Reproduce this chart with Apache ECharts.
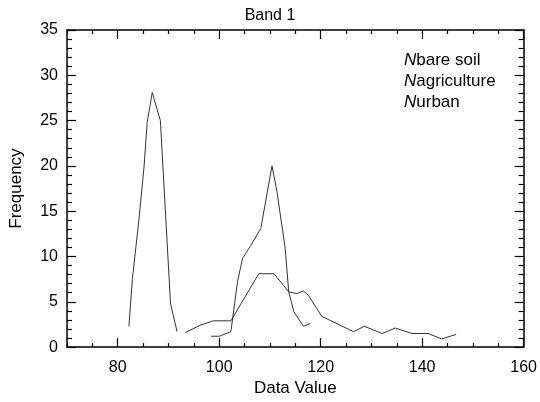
<!DOCTYPE html>
<html>
<head>
<meta charset="utf-8">
<script src="https://cdn.jsdelivr.net/npm/echarts@6/dist/echarts.min.js"></script>
<style>
  html, body { margin: 0; padding: 0; background: #fff; }
  #chart { width: 540px; height: 402px; }
</style>
</head>
<body>
<div id="chart"></div>
<script>
// histogram curves (data value, frequency)
const agriX = [82.2, 82.9, 84.2, 85.2, 85.8, 86.8, 88.4, 90.4, 91.7];
const agriY = [2.3, 7.6, 14.2, 20.0, 24.8, 28.1, 25.0, 4.8, 1.7];

const soilX = [98.4, 100.0, 102.3, 103.6, 104.6, 106.2, 108.2, 110.4, 111.4, 113.0, 113.7, 114.7, 116.6, 117.9];
const soilY = [1.2, 1.2, 1.7, 7.2, 9.8, 11.2, 13.1, 20.0, 17.1, 10.9, 6.1, 3.9, 2.3, 2.6];

const urbanX = [93.3, 96.2, 98.8, 102.3, 107.8, 110.8, 112.7, 113.7, 115.3, 116.6, 117.6, 120.2, 122.4, 126.5, 128.6, 132.1, 134.7, 138.0, 141.2, 143.8, 146.7];
const urbanY = [1.6, 2.4, 2.9, 2.9, 8.1, 8.1, 6.8, 6.1, 5.9, 6.2, 5.7, 3.4, 2.8, 1.7, 2.3, 1.5, 2.1, 1.5, 1.5, 0.9, 1.4];

// axis ticks
const xMajor = [80, 100, 120, 140, 160];
const xMinor = [70, 75, 85, 90, 95, 105, 110, 115, 125, 130, 135, 145, 150, 155];
const yMajor = [0, 5, 10, 15, 20, 25, 30, 35];
const yMinor = [1, 2, 3, 4, 6, 7, 8, 9, 11, 12, 13, 14, 16, 17, 18, 19, 21, 22, 23, 24, 26, 27, 28, 29, 31, 32, 33, 34];

const legendNames = ['bare soil', 'agriculture', 'urban'];

const FONT = 'Liberation Sans, Arial, sans-serif';
const pairs = (xs, ys) => xs.map((x, i) => [x, ys[i]]);

function xAx(pos, ticks, len, withLabel, showLine) {
    return {
        type: 'value', position: pos, min: 70, max: 160,
        axisLine: { show: showLine, onZero: false, lineStyle: { color: '#000', width: 1.5 } },
        axisTick: { inside: true, length: len, customValues: ticks, lineStyle: { color: '#000', width: 1.2 } },
        axisLabel: withLabel
            ? { customValues: xMajor, color: '#000', fontSize: 16, fontFamily: FONT, margin: 12 }
            : { show: false },
        splitLine: { show: false }
    };
}

function yAx(pos, ticks, len, withLabel, showLine) {
    return {
        type: 'value', position: pos, min: 0, max: 35,
        axisLine: { show: showLine, onZero: false, lineStyle: { color: '#000', width: 1.5 } },
        axisTick: { inside: true, length: len, customValues: ticks, lineStyle: { color: '#000', width: 1.2 } },
        axisLabel: withLabel
            ? { customValues: yMajor, color: '#000', fontSize: 16, fontFamily: FONT, margin: 9 }
            : { show: false },
        splitLine: { show: false }
    };
}

const chart = echarts.init(document.getElementById('chart'));

const lineSeries = (name, data) => ({
    name: name,
    type: 'line',
    data: data,
    symbol: 'none',
    xAxisIndex: 0,
    yAxisIndex: 0,
    lineStyle: { color: '#333', width: 1 },
    animation: false
});

chart.setOption({
    animation: false,
    title: {
        text: 'Band 1',
        left: 'center',
        top: 3,
        textStyle: { fontSize: 16, fontWeight: 'normal', color: '#000', fontFamily: FONT }
    },
    grid: { left: 67, right: 10, top: 30, bottom: 53 },
    xAxis: [
        Object.assign(xAx('bottom', xMajor, 9, true, true), {
            name: 'Data Value', nameLocation: 'middle', nameGap: 28,
            nameTextStyle: { fontSize: 17, color: '#000', fontFamily: FONT }
        }),
        xAx('bottom', xMinor, 4, false, false),
        xAx('top', xMajor, 9, false, true),
        xAx('top', xMinor, 4, false, false)
    ],
    yAxis: [
        Object.assign(yAx('left', yMajor, 9, true, true), {
            name: 'Frequency', nameLocation: 'middle', nameGap: 42,
            nameTextStyle: { fontSize: 17, color: '#000', fontFamily: FONT }
        }),
        yAx('left', yMinor, 5, false, false),
        yAx('right', yMajor, 9, false, true),
        yAx('right', yMinor, 5, false, false)
    ],
    graphic: legendNames.map((name, i) => ({
        type: 'text',
        left: 404,
        top: 52 + i * 21,
        style: {
            text: '{n|N}' + name,
            font: '17px ' + FONT,
            fill: '#000',
            rich: { n: { fontStyle: 'italic', fontSize: 17, fontFamily: FONT } }
        }
    })),
    series: [
        lineSeries('agriculture', pairs(agriX, agriY)),
        lineSeries('bare soil', pairs(soilX, soilY)),
        lineSeries('urban', pairs(urbanX, urbanY))
    ]
});
</script>
</body>
</html>
